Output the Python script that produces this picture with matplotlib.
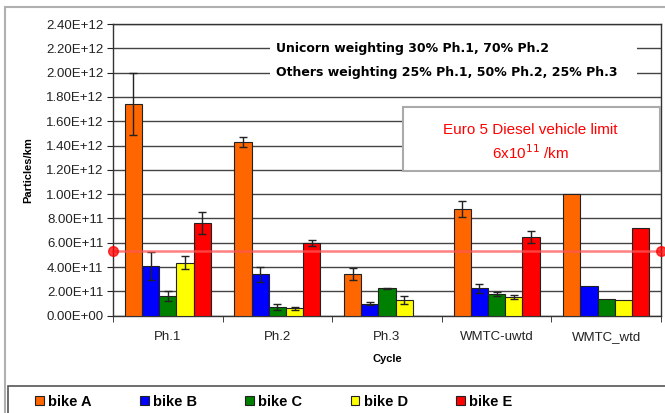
import matplotlib
matplotlib.use('Agg')
import matplotlib.pyplot as plt
from matplotlib.patches import Rectangle, Patch
import numpy as np

plt.rcParams['font.family'] = ['Liberation Sans', 'DejaVu Sans']

# data
cycles = ['Ph.1', 'Ph.2', 'Ph.3', 'WMTC-uwtd', 'WMTC_wtd']
bikes = ['bike A', 'bike B', 'bike C', 'bike D', 'bike E']
colors = ['#ff6600', '#0000ff', '#008000', '#ffff00', '#ff0000']

bike_a = [1.74e12, 1.43e12, 0.34e12, 0.88e12, 1.00e12]
bike_b = [0.41e12, 0.34e12, 0.10e12, 0.225e12, 0.244e12]
bike_c = [0.165e12, 0.069e12, 0.225e12, 0.178e12, 0.14e12]
bike_d = [0.436e12, 0.061e12, 0.13e12, 0.156e12, 0.13e12]
bike_e = [0.765e12, 0.60e12, 0.0, 0.65e12, 0.72e12]

# error half-widths (no error bars on weighted values)
err_a = [0.255e12, 0.04e12, 0.05e12, 0.065e12, 0]
err_b = [0.115e12, 0.06e12, 0.01e12, 0.035e12, 0]
err_c = [0.04e12, 0.025e12, 0.006e12, 0.015e12, 0]
err_d = [0.055e12, 0.01e12, 0.03e12, 0.015e12, 0]
err_e = [0.09e12, 0.025e12, 0, 0.05e12, 0]

limit_line = 0.53e12

values = [bike_a, bike_b, bike_c, bike_d, bike_e]
errors = [err_a, err_b, err_c, err_d, err_e]

fig = plt.figure(figsize=(6.65, 4.13), dpi=100)
ax = fig.add_axes([113/665, 1 - 315.7/413, 548/665, 291.7/413])

x = np.arange(len(cycles))
w = 0.157
for i in range(5):
    pos = x + (i - 2) * w
    ax.bar(pos, values[i], w, color=colors[i], edgecolor='#222222', linewidth=0.8, zorder=3)
    yerr = np.array(errors[i])
    mask = yerr > 0
    ax.errorbar(pos[mask], np.array(values[i])[mask], yerr=yerr[mask], fmt='none',
                ecolor='#222222', elinewidth=1, capsize=3, capthick=1, zorder=4)

ax.set_xlim(-0.5, 4.5)
ax.set_ylim(0, 2.4e12)
yt = np.arange(0, 2.41e12, 0.2e12)
ax.set_yticks(yt)
ax.set_yticklabels([f'{v:.2E}' for v in yt], fontsize=9.5, color='#222222')
ax.yaxis.grid(True, color='#444444', linewidth=1, zorder=0)
ax.set_axisbelow(True)
ax.set_xticks(x)
ax.set_xticklabels(cycles, fontsize=9.5, color='#222222')
ax.tick_params(axis='x', which='major', length=0, pad=11)
ax.set_xticks(np.arange(-0.5, 5, 1), minor=True)
ax.tick_params(axis='x', which='minor', length=4, direction='out', color='#222222')
ax.tick_params(axis='y', length=4, direction='out', color='#222222', pad=3)
for s in ax.spines.values():
    s.set_color('#333333')
    s.set_linewidth(1)

ax.set_ylabel('Particles/km', fontsize=8, fontweight='bold', labelpad=9)
ax.set_xlabel('Cycle', fontsize=8, fontweight='bold', labelpad=8)

# limit line
ax.plot([-0.5, 4.5], [limit_line, limit_line], color='#ff5555', alpha=0.75, lw=1.8,
        marker='o', markersize=7, markerfacecolor='red', markeredgecolor='red',
        clip_on=False, zorder=5)

# weighting note
ax.add_patch(Rectangle((0.932, 1.83e12), 4.28 - 0.932, 0.55e12, facecolor='white',
                       edgecolor='none', zorder=1))
ax.text(0.987, 2.2e12, 'Unicorn weighting 30% Ph.1, 70% Ph.2', fontsize=9,
        fontweight='bold', va='center', ha='left', zorder=6, family=['DejaVu Sans'])
ax.text(0.987, 2.0e12, 'Others weighting 25% Ph.1, 50% Ph.2, 25% Ph.3', fontsize=9,
        fontweight='bold', va='center', ha='left', zorder=6, family=['DejaVu Sans'])

# Euro 5 box
ax.add_patch(Rectangle((2.146, 1.19e12), 4.49 - 2.146, 0.527e12, facecolor='white',
                       edgecolor='#aaaaaa', linewidth=1.5, zorder=6))
ax.text(3.31, 1.525e12, 'Euro 5 Diesel vehicle limit', color='red', fontsize=11,
        ha='center', va='center', zorder=7)
ax.text(3.31, 1.345e12, r'6x10$^{11}$ /km', color='red', fontsize=11,
        ha='center', va='center', zorder=7)

# outer frame and legend box
fig.add_artist(Rectangle((5/665, -0.1), 2, 1 - 7/413 + 0.1, transform=fig.transFigure,
                         facecolor='none', edgecolor='#b0b0b0', linewidth=1.5))
fig.add_artist(Rectangle((8/665, -0.1), 2, 0.1 + 1 - 386/413, transform=fig.transFigure,
                         facecolor='none', edgecolor='#555555', linewidth=1.2))

handles = [Patch(facecolor=c, edgecolor='#222222', linewidth=0.8) for c in colors]
fig.legend(handles, bikes, loc='center left', bbox_to_anchor=(22/665, 1 - 402/413),
           ncol=5, frameon=False, prop={'weight': 'bold', 'size': 10.5},
           handlelength=0.6, handleheight=0.6, handletextpad=0.3, columnspacing=3.3)

fig.savefig('out.png', dpi=100)
